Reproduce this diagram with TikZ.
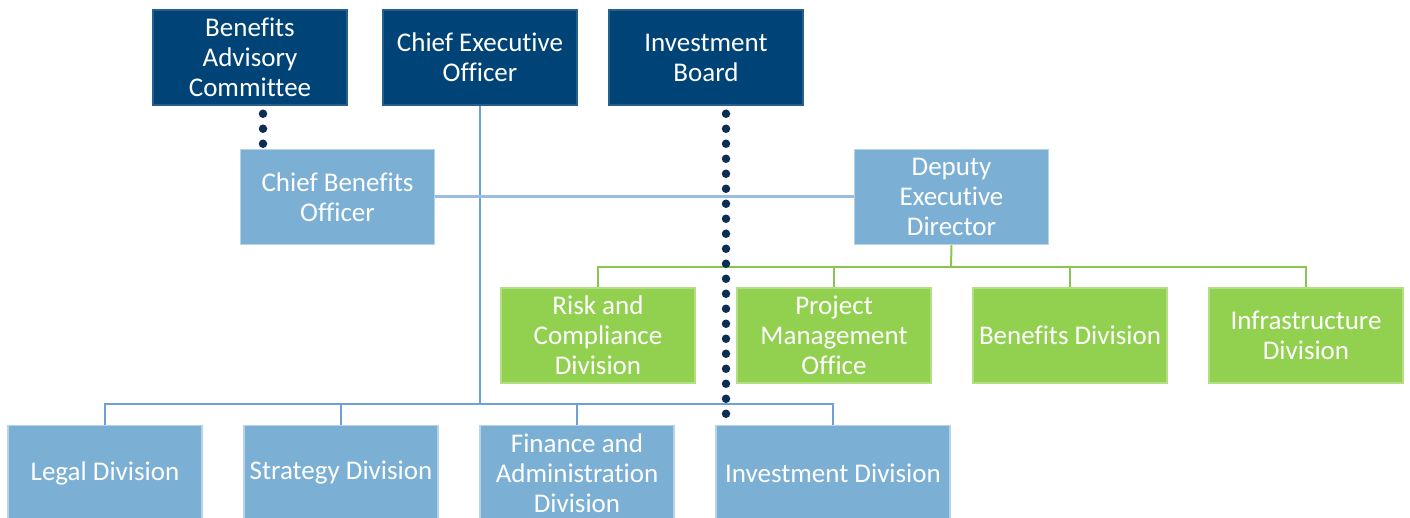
\documentclass[tikz,border=0pt]{standalone}
\usepackage{fontspec}
\setmainfont{Carlito}[RawFeature={-liga;-clig;-calt;-dlig}]
\definecolor{navy}{RGB}{0,68,119}
\definecolor{paleblue}{RGB}{123,175,212}
\definecolor{leaf}{RGB}{146,208,80}
\definecolor{wire}{RGB}{108,160,214}
\definecolor{leafwire}{RGB}{140,196,80}
\definecolor{dotnavy}{RGB}{12,46,82}
\begin{document}
\begin{tikzpicture}[x=1pt,y=-1pt,
    unitbox/.style={minimum width=194pt,minimum height=95pt,inner sep=0pt,align=center,
      text=white,font=\fontsize{27}{30}\selectfont,line width=1.5pt},
    boardbox/.style={unitbox,fill=navy,draw=navy!85!white},
    officebox/.style={unitbox,fill=paleblue,draw=paleblue!55!white},
    divbox/.style={unitbox,fill=leaf,draw=leaf!70!white},
    blueline/.style={draw=wire,line width=2pt},
    greenline/.style={draw=leafwire,line width=2pt},
    dotline/.style={draw=dotnavy,line width=8.5pt,line cap=round,dash pattern=on 0pt off 15pt}]
  \useasboundingbox (0,0) rectangle (1410,518);
  \draw
    (250,57.5) node[boardbox] (bac){Benefits\\Advisory\\Committee}
    (480,57.5) node[boardbox] (ceo){Chief Executive\\Officer}
    (706,57.5) node[boardbox] (ib){Investment\\Board}
    (337.5,197) node[officebox] (cbo){Chief Benefits\\Officer}
    (951.5,197) node[officebox] (ded){Deputy\\Executive\\Director}
    (598,335.5) node[divbox] (risk){Risk and\\Compliance\\Division}
    (834,335.5) node[divbox] (pmo){Project\\Management\\Office}
    (1070,335.5) node[divbox] (bendiv){Benefits Division}
    (1306,335.5) node[divbox] (infra){Infrastructure\\Division}
    (105,473) node[officebox] (legal){Legal Division}
    (341,473) node[officebox] (strat){Strategy Division}
    (577,473) node[officebox] (fin){Finance and\\Administration\\Division}
    (833,473) node[officebox,minimum width=234pt] (inv){Investment Division};
  \coordinate (cbus) at (480,404);
  \coordinate (gbus) at (951,267);
  \begin{scope}[blueline]
    \draw (ceo.south) -- (cbus);
    \draw (legal.north) |- (cbus);
    \draw (inv.north) |- (cbus);
    \draw (strat.north) -- (strat.north |- cbus);
    \draw (fin.north) -- (fin.north |- cbus);
    \draw[line width=3pt,draw=wire!70!white] (cbo.east) -- (ded.west);
  \end{scope}
  \begin{scope}[greenline]
    \draw (ded.south) -- (gbus);
    \draw (risk.north) |- (gbus);
    \draw (infra.north) |- (gbus);
    \draw (pmo.north) -- (pmo.north |- gbus);
    \draw (bendiv.north) -- (bendiv.north |- gbus);
  \end{scope}
  \begin{scope}[dotline]
    \draw ([xshift=13pt,yshift=-8pt]bac.south) -- ([xshift=13pt]bac.south |- cbo.north);
    \draw ([xshift=20pt,yshift=-8pt]ib.south) -- ([xshift=20pt]ib.south |- inv.north);
  \end{scope}
\end{tikzpicture}
\end{document}
